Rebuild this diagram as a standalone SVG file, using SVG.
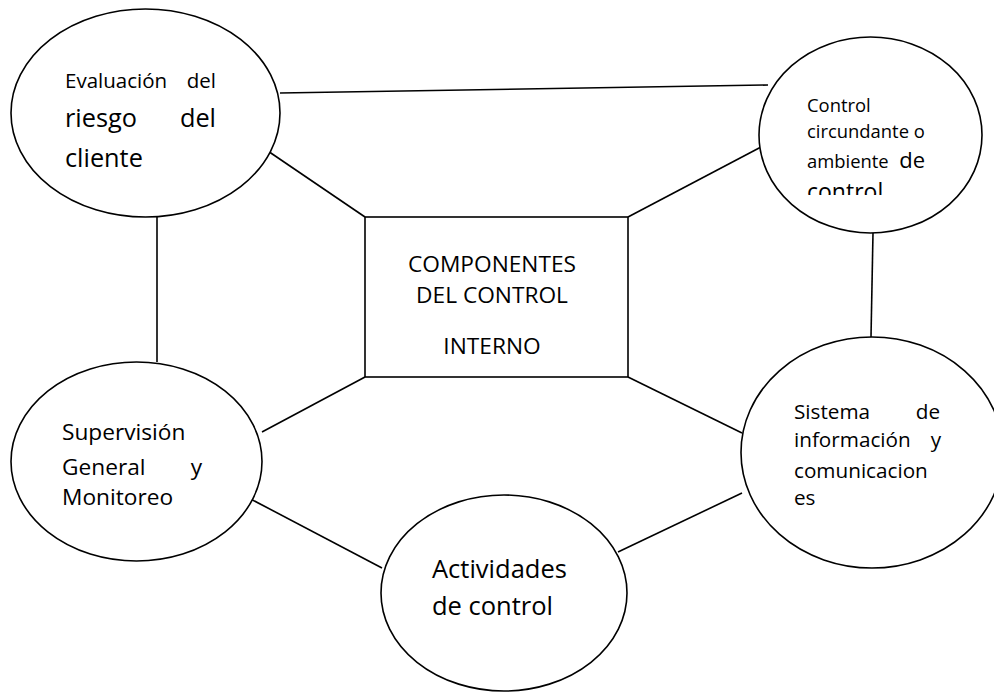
<svg xmlns="http://www.w3.org/2000/svg" width="994" height="695" viewBox="0 0 994 695">
<defs>
<style>
.shape{fill:#fff;stroke:#000;stroke-width:1.6}
.conn line{stroke:#000;stroke-width:1.6}
text{font-family:"Open Sans","Noto Sans","DejaVu Sans",sans-serif;fill:#000}
</style>
<clipPath id="clipCtl"><rect x="760" y="40" width="230" height="155"/></clipPath>
</defs>
<rect width="994" height="695" fill="#fff"/>
<g id="connectors" class="conn">
<line x1="280" y1="93" x2="768" y2="85"/>
<line x1="262" y1="147" x2="365" y2="217"/>
<line x1="761" y1="147" x2="628" y2="217"/>
<line x1="157" y1="217" x2="157" y2="362"/>
<line x1="873" y1="233" x2="871" y2="337"/>
<line x1="365" y1="377" x2="262" y2="432"/>
<line x1="628" y1="377" x2="742" y2="433"/>
<line x1="245" y1="496" x2="382" y2="568"/>
<line x1="618" y1="552" x2="742" y2="493"/>
</g>
<g id="evaluacion">
<ellipse class="shape" cx="145.5" cy="113" rx="134.5" ry="104"/>
<text x="65" y="88" font-size="20.5">Evaluación</text>
<text x="216" y="88" font-size="20.5" text-anchor="end">del</text>
<text x="65" y="127" font-size="25.3">riesgo</text>
<text x="216" y="127" font-size="25.3" text-anchor="end">del</text>
<text x="65" y="167" font-size="25.3">cliente</text>
</g>
<g id="control-circundante">
<ellipse class="shape" cx="870.5" cy="135" rx="111.5" ry="98"/>
<text x="807" y="112" font-size="18.4">Control</text>
<text x="807" y="138" font-size="18.4">circundante o</text>
<text x="807" y="168" font-size="18.4">ambiente</text>
<text x="925" y="168" font-size="22" text-anchor="end">de</text>
<g clip-path="url(#clipCtl)"><text x="807" y="200" font-size="23">control</text></g>
</g>
<g id="componentes">
<rect class="shape" x="365" y="217" width="263" height="160"/>
<text x="492" y="272" font-size="22.7" text-anchor="middle">COMPONENTES</text>
<text x="492" y="303" font-size="22.7" text-anchor="middle">DEL CONTROL</text>
<text x="492" y="354" font-size="22.7" text-anchor="middle">INTERNO</text>
</g>
<g id="supervision">
<ellipse class="shape" cx="136.5" cy="461.5" rx="125.5" ry="99.5"/>
<text x="62" y="440" font-size="22.7">Supervisión</text>
<text x="62" y="475" font-size="22.7">General</text>
<text x="202" y="475" font-size="22.7" text-anchor="end">y</text>
<text x="62" y="505" font-size="22.7">Monitoreo</text>
</g>
<g id="sistema">
<ellipse class="shape" cx="872" cy="452.5" rx="131" ry="115.5"/>
<text x="794" y="419" font-size="20.7">Sistema</text>
<text x="940" y="419" font-size="20.7" text-anchor="end">de</text>
<text x="794" y="447" font-size="20.7">información</text>
<text x="941" y="447" font-size="20.7" text-anchor="end">y</text>
<text x="794" y="478" font-size="20.7">comunicacion</text>
<text x="794" y="505" font-size="20.7">es</text>
</g>
<g id="actividades">
<ellipse class="shape" cx="504" cy="593" rx="123" ry="98"/>
<text x="432" y="578" font-size="25.5">Actividades</text>
<text x="432" y="615" font-size="25.5">de control</text>
</g>
</svg>
